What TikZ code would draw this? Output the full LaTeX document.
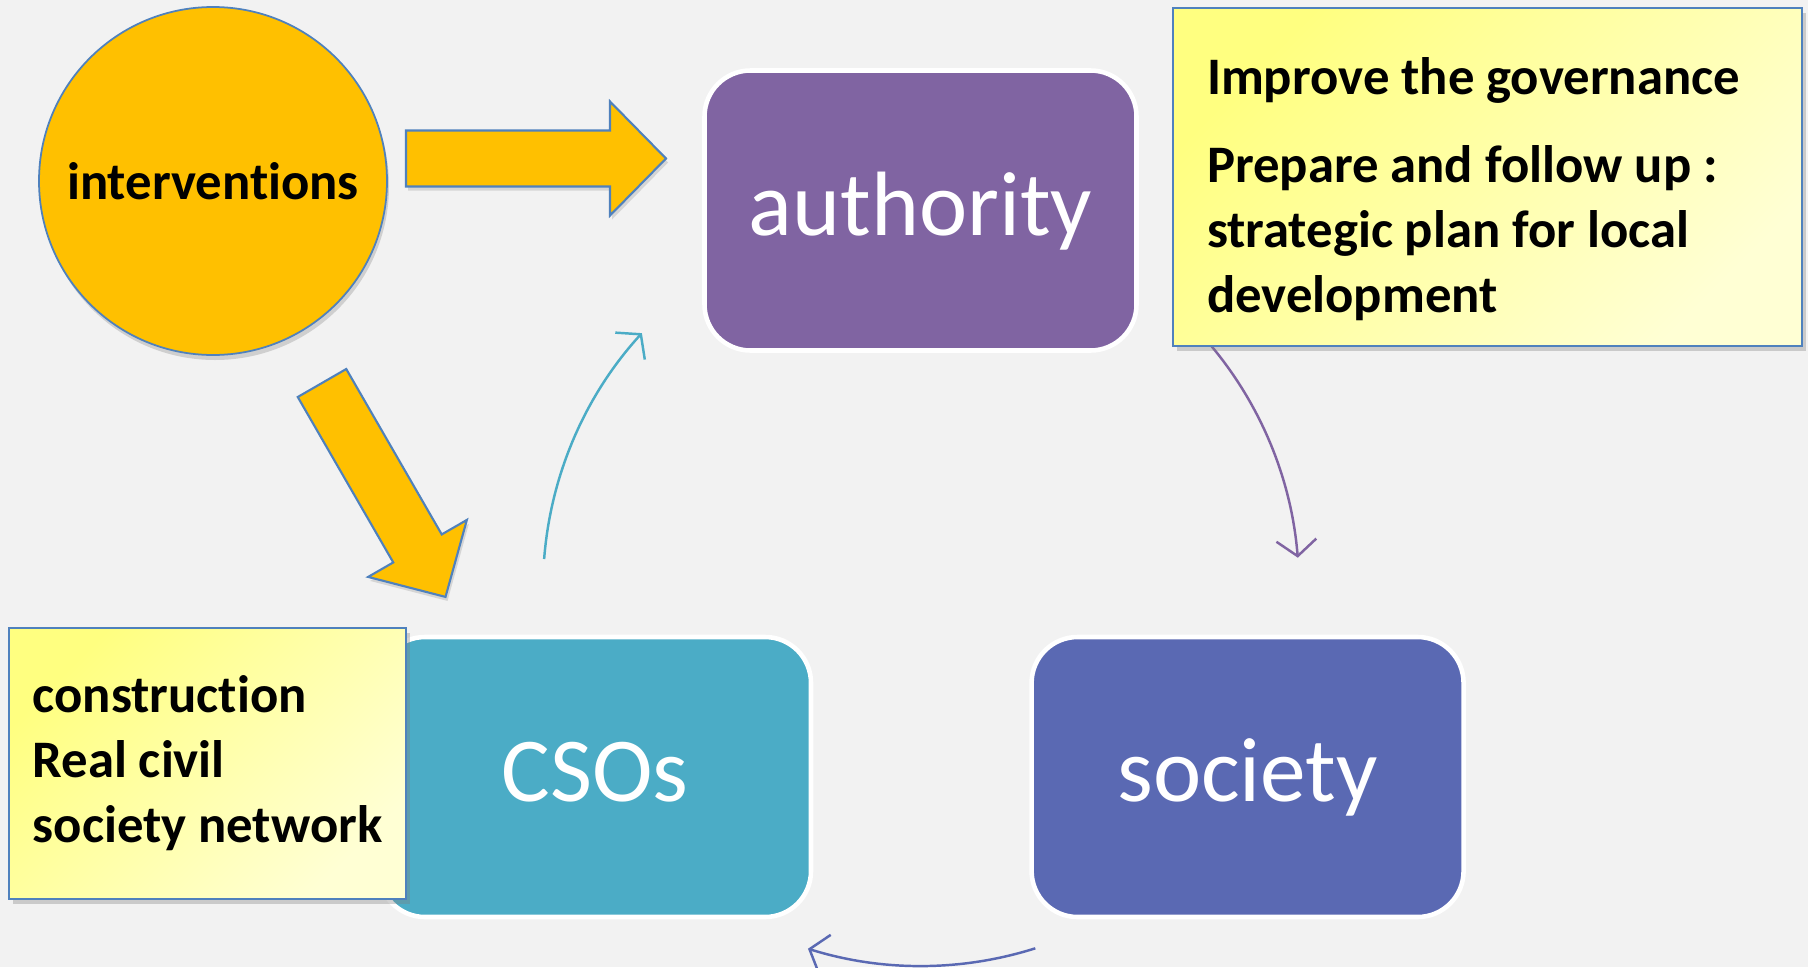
\documentclass[tikz,border=0pt]{standalone}
\usepackage{fontspec}
\setmainfont{Carlito}[Ligatures=NoCommon]
\usetikzlibrary{positioning,shadows,arrows.meta}

\definecolor{paper}{HTML}{F2F2F2}
\definecolor{gold}{HTML}{FFC000}
\definecolor{edgeblue}{HTML}{4F81BD}
\definecolor{authpurple}{HTML}{8064A2}
\definecolor{csoteal}{HTML}{4BACC6}
\definecolor{socblue}{HTML}{5A69B3}
\definecolor{notetop}{HTML}{FFFF80}
\definecolor{notebot}{HTML}{FFFFD4}

\tikzset{
  roundbox/.style={rectangle, rounded corners=0.46cm, draw=white, line width=1.3pt,
    text=white, minimum width=4.32cm, minimum height=2.80cm,
    text height=22pt, text depth=7.8pt,
    font=\fontsize{26}{31}\selectfont},
  note/.style={rectangle, draw=edgeblue, line width=0.6pt,
    top color=notetop, bottom color=notebot, shading angle=45,
    drop shadow={opacity=0.35, shadow xshift=0.04cm, shadow yshift=-0.05cm},
    font=\bfseries\fontsize{15}{18.5}\selectfont},
  flow/.style={line width=0.7pt, -{Straight Barb[length=1.6mm, width=4mm]}},
  arrowbody/.style={fill=gold, draw=edgeblue, line width=0.6pt,
    drop shadow={opacity=0.25, shadow xshift=0.02cm, shadow yshift=-0.04cm}},
  pics/fatarrow/.style={code={
    \draw[arrowbody] (0,0.28) -- (#1-0.56,0.28) -- (#1-0.56,0.57) -- (#1,0)
      -- (#1-0.56,-0.57) -- (#1-0.56,-0.28) -- (0,-0.28) -- cycle;
  }}
}

\begin{document}
\begin{tikzpicture}

  \useasboundingbox (0,0) rectangle (18.08,-9.67);
  \fill[paper] (0,0) rectangle (18.08,-9.67);

  % cycle arcs
  \coordinate (hub) at (9.21,-5.88);
  \draw[flow, csoteal] ([shift={(175.6:3.78)}]hub) arc[start angle=175.6, end angle=137.6, radius=3.78];
  \draw[flow, authpurple] ([shift={(42.4:3.78)}]hub) arc[start angle=42.4, end angle=4.6, radius=3.78];
  \draw[flow, socblue] ([shift={(-72.4:3.78)}]hub) arc[start angle=-72.4, end angle=-107.4, radius=3.78];

  \node[roundbox, fill=authpurple] (auth) at (9.205,-2.105) {authority};
  \node[roundbox, fill=csoteal] (cso) at (5.95,-7.77) {CSOs};
  \node[roundbox, fill=socblue] (soc) [right = 2.16cm of cso] {society};

  \node[note, minimum width=6.29cm, minimum height=3.38cm, text width=5.61cm,
    align=flush left]
    (govnote) at (14.875,-1.77)
    {\rule{0pt}{0.62cm}Improve the governance\\[0.23cm]
     Prepare and follow up :\\
     strategic plan for local\\
     development};

  \node[note, minimum width=3.97cm, minimum height=2.71cm, align=left]
    (csonote) at (2.075,-7.635)
    {construction\\
     Real civil\\
     society network};

  \node[circle, fill=gold, draw=edgeblue, line width=0.5pt, minimum size=3.48cm,
    drop shadow={opacity=0.3, shadow xshift=0.02cm, shadow yshift=-0.05cm},
    font=\bfseries\fontsize{15}{18}\selectfont]
    (interv) at (2.13,-1.81) {interventions};

  \pic (toauth) at (4.06,-1.585) {fatarrow=2.60};
  \pic[rotate=-60] (tocso) at (3.22,-3.83) {fatarrow=2.47};
\end{tikzpicture}
\end{document}
